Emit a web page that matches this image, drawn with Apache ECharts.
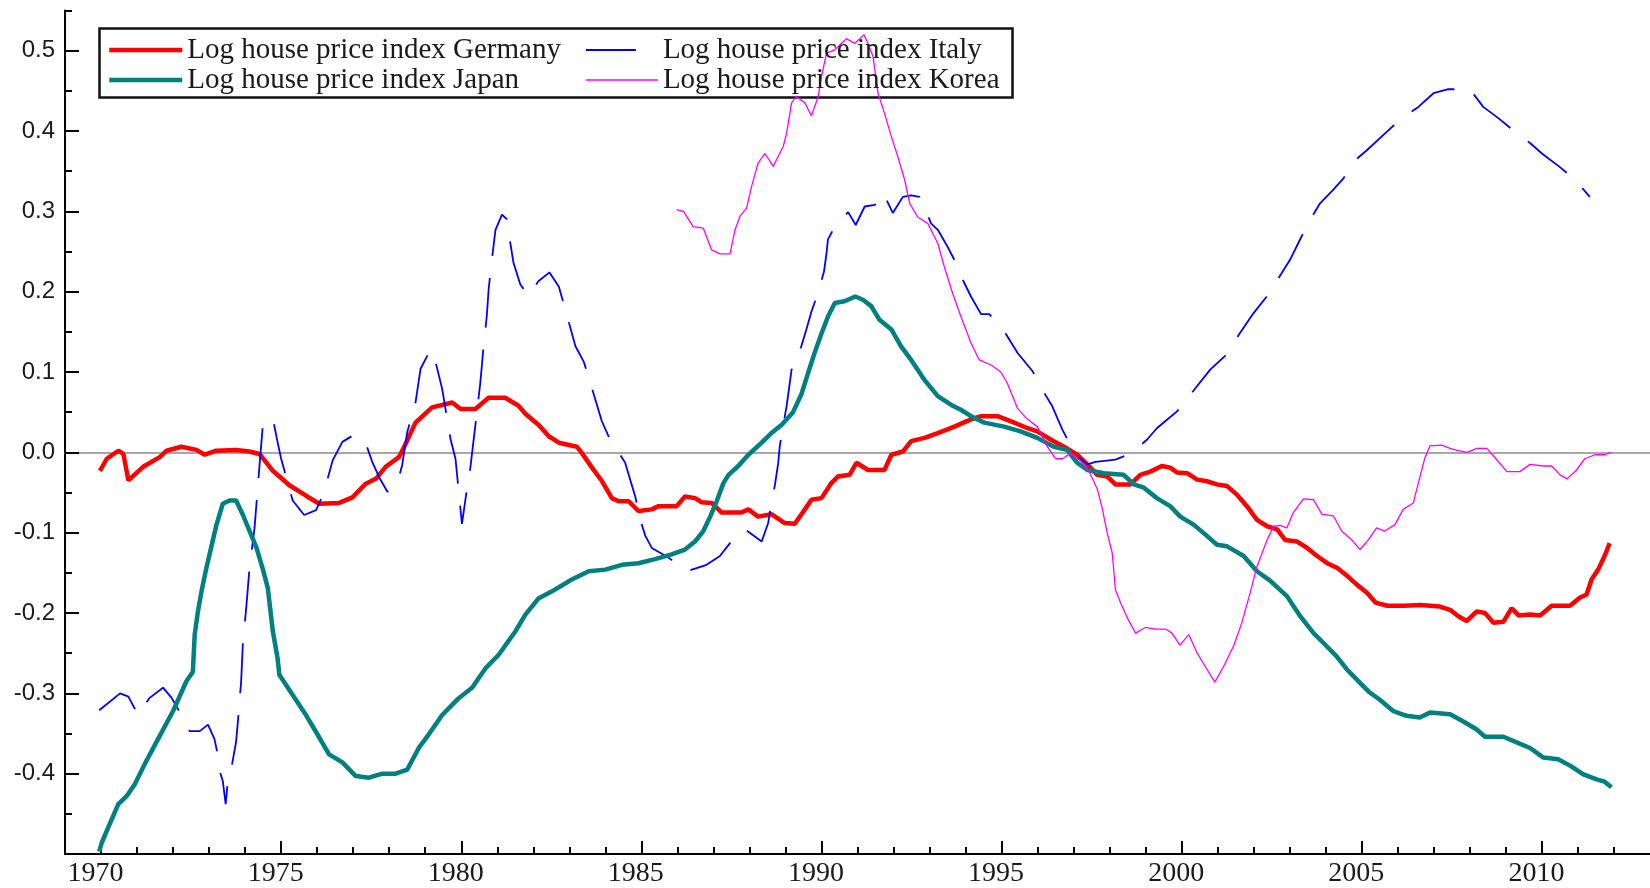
<!DOCTYPE html>
<html>
<head>
<meta charset="utf-8">
<script src="https://cdn.jsdelivr.net/npm/echarts@6/dist/echarts.min.js"></script>
<style>html,body{margin:0;padding:0;background:#fff;}#c{width:1650px;height:888px;}</style>
</head>
<body>
<div id="c"></div>
<script>
// ---- data (year, log index) ----
const germany = [[1969.97,-0.023],[1970.16,-0.008],[1970.48,0.002],[1970.62,-0.002],[1970.76,-0.035],[1971.17,-0.018],[1971.63,-0.006],[1971.82,0.002],[1972.23,0.007],[1972.65,0.003],[1972.88,-0.003],[1973.2,0.002],[1973.75,0.003],[1974.12,0.001],[1974.4,-0.002],[1974.77,-0.023],[1975.23,-0.041],[1975.69,-0.054],[1976.06,-0.064],[1976.61,-0.063],[1976.98,-0.056],[1977.35,-0.039],[1977.63,-0.033],[1977.9,-0.018],[1978.27,-0.006],[1978.46,0.011],[1978.73,0.037],[1979.19,0.056],[1979.75,0.062],[1979.98,0.054],[1980.39,0.054],[1980.76,0.068],[1981.22,0.068],[1981.59,0.058],[1981.78,0.048],[1982.15,0.034],[1982.43,0.02],[1982.71,0.012],[1983.21,0.007],[1983.35,-0.001],[1983.63,-0.019],[1983.91,-0.036],[1984.18,-0.057],[1984.37,-0.061],[1984.65,-0.061],[1984.92,-0.073],[1985.29,-0.071],[1985.48,-0.067],[1985.98,-0.067],[1986.21,-0.055],[1986.49,-0.057],[1986.67,-0.062],[1986.95,-0.063],[1987.23,-0.075],[1987.78,-0.075],[1987.97,-0.071],[1988.24,-0.08],[1988.61,-0.077],[1988.98,-0.088],[1989.26,-0.089],[1989.54,-0.071],[1989.72,-0.059],[1990.0,-0.057],[1990.28,-0.038],[1990.46,-0.03],[1990.78,-0.028],[1990.97,-0.013],[1991.29,-0.022],[1991.75,-0.022],[1991.94,-0.003],[1992.26,0.001],[1992.49,0.014],[1992.86,0.018],[1993.23,0.024],[1993.69,0.032],[1994.15,0.041],[1994.43,0.045],[1994.89,0.045],[1995.35,0.037],[1995.72,0.03],[1995.99,0.026],[1996.36,0.016],[1996.73,0.007],[1997.1,-0.003],[1997.38,-0.015],[1997.66,-0.028],[1997.93,-0.03],[1998.16,-0.04],[1998.58,-0.04],[1998.85,-0.028],[1999.13,-0.024],[1999.45,-0.017],[1999.68,-0.019],[1999.87,-0.025],[2000.15,-0.026],[2000.43,-0.034],[2000.7,-0.036],[2000.98,-0.04],[2001.26,-0.042],[2001.54,-0.053],[2001.81,-0.067],[2002.09,-0.084],[2002.37,-0.092],[2002.65,-0.096],[2002.87,-0.109],[2003.2,-0.111],[2003.48,-0.119],[2003.76,-0.129],[2004.04,-0.138],[2004.32,-0.144],[2004.6,-0.154],[2004.87,-0.165],[2005.15,-0.175],[2005.38,-0.187],[2005.71,-0.191],[2006.17,-0.191],[2006.63,-0.19],[2007.17,-0.192],[2007.45,-0.196],[2007.68,-0.204],[2007.91,-0.21],[2008.19,-0.198],[2008.42,-0.2],[2008.65,-0.212],[2008.93,-0.211],[2009.16,-0.194],[2009.35,-0.203],[2009.67,-0.202],[2009.95,-0.203],[2010.27,-0.191],[2010.78,-0.191],[2011.05,-0.181],[2011.24,-0.177],[2011.38,-0.158],[2011.56,-0.146],[2011.74,-0.129],[2011.88,-0.113]];

const italy = [[1969.95,-0.321],[1970.53,-0.3],[1970.76,-0.304],[1971.03,-0.327],[1971.34,-0.306],[1971.72,-0.293],[1971.95,-0.305],[1972.23,-0.327],[1972.46,-0.347],[1972.74,-0.347],[1972.97,-0.339],[1973.15,-0.357],[1973.22,-0.372],[1973.27,-0.393],[1973.38,-0.409],[1973.46,-0.438],[1973.52,-0.409],[1973.62,-0.393],[1973.75,-0.36],[1973.8,-0.335],[1973.89,-0.285],[1973.94,-0.236],[1974.03,-0.194],[1974.12,-0.145],[1974.26,-0.095],[1974.4,-0.016],[1974.49,0.033],[1974.63,0.042],[1974.77,0.042],[1974.9,0.013],[1975.0,-0.008],[1975.18,-0.037],[1975.32,-0.06],[1975.64,-0.078],[1975.97,-0.072],[1976.15,-0.054],[1976.29,-0.033],[1976.43,-0.01],[1976.7,0.013],[1977.03,0.022],[1977.35,0.011],[1977.53,-0.012],[1977.72,-0.031],[1977.95,-0.049],[1978.22,-0.039],[1978.36,-0.016],[1978.5,0.025],[1978.73,0.062],[1978.87,0.104],[1979.15,0.128],[1979.29,0.112],[1979.47,0.079],[1979.7,0.017],[1979.84,-0.008],[1979.93,-0.049],[1980.02,-0.089],[1980.16,-0.045],[1980.25,-0.02],[1980.39,0.033],[1980.53,0.087],[1980.62,0.132],[1980.71,0.17],[1980.76,0.203],[1980.85,0.24],[1980.95,0.277],[1981.13,0.296],[1981.27,0.29],[1981.36,0.261],[1981.45,0.236],[1981.64,0.209],[1981.87,0.195],[1982.14,0.213],[1982.45,0.224],[1982.71,0.206],[1982.85,0.184],[1983.17,0.132],[1983.4,0.113],[1983.72,0.066],[1983.9,0.039],[1984.09,0.02],[1984.55,-0.013],[1984.69,-0.034],[1984.83,-0.055],[1984.97,-0.084],[1985.11,-0.104],[1985.29,-0.119],[1985.75,-0.131],[1986.26,-0.148],[1986.81,-0.14],[1987.18,-0.129],[1987.46,-0.113],[1987.88,-0.096],[1988.34,-0.111],[1988.52,-0.088],[1988.61,-0.063],[1988.71,-0.04],[1988.8,-0.013],[1988.84,0.007],[1988.93,0.032],[1989.03,0.057],[1989.17,0.103],[1989.44,0.132],[1989.58,0.153],[1989.72,0.175],[1989.9,0.198],[1990.07,0.225],[1990.14,0.248],[1990.18,0.265],[1990.37,0.281],[1990.74,0.299],[1990.95,0.283],[1991.2,0.306],[1991.48,0.308],[1991.71,0.323],[1991.98,0.298],[1992.26,0.318],[1992.49,0.32],[1992.72,0.318],[1992.86,0.306],[1993.04,0.285],[1993.23,0.277],[1993.5,0.256],[1993.73,0.236],[1993.92,0.215],[1994.15,0.194],[1994.43,0.172],[1994.66,0.172],[1995.07,0.151],[1995.44,0.124],[1995.86,0.101],[1996.13,0.078],[1996.41,0.057],[1996.69,0.028],[1996.9,0.01],[1997.1,-0.005],[1997.38,-0.015],[1997.61,-0.012],[1998.16,-0.009],[1998.45,-0.004],[1998.76,0.005],[1999.04,0.016],[1999.31,0.03],[1999.55,0.039],[1999.87,0.051],[2000.28,0.074],[2000.79,0.103],[2001.3,0.124],[2001.58,0.146],[2001.99,0.173],[2002.36,0.194],[2002.69,0.217],[2003.01,0.24],[2003.33,0.269],[2003.56,0.289],[2003.84,0.31],[2004.21,0.327],[2004.49,0.341],[2004.77,0.362],[2005.14,0.376],[2005.69,0.399],[2006.06,0.414],[2006.57,0.43],[2006.99,0.447],[2007.4,0.452],[2008.0,0.452],[2008.37,0.43],[2008.79,0.416],[2009.2,0.401],[2009.67,0.385],[2010.0,0.372],[2010.5,0.355],[2010.9,0.34],[2011.33,0.318]];

const japan = [[1969.95,-0.497],[1970.02,-0.486],[1970.2,-0.467],[1970.48,-0.438],[1970.71,-0.428],[1970.94,-0.413],[1971.26,-0.384],[1971.63,-0.353],[1972.0,-0.322],[1972.37,-0.285],[1972.55,-0.273],[1972.6,-0.227],[1972.69,-0.198],[1972.79,-0.173],[1972.92,-0.145],[1973.06,-0.118],[1973.2,-0.091],[1973.38,-0.064],[1973.57,-0.06],[1973.75,-0.06],[1973.94,-0.078],[1974.17,-0.103],[1974.31,-0.118],[1974.49,-0.145],[1974.63,-0.169],[1974.77,-0.223],[1974.9,-0.256],[1974.95,-0.277],[1975.32,-0.302],[1975.69,-0.327],[1976.06,-0.355],[1976.33,-0.376],[1976.7,-0.386],[1977.07,-0.403],[1977.44,-0.405],[1977.81,-0.4],[1978.18,-0.4],[1978.5,-0.395],[1978.82,-0.368],[1979.1,-0.351],[1979.47,-0.327],[1979.93,-0.306],[1980.3,-0.293],[1980.67,-0.269],[1981.04,-0.252],[1981.5,-0.223],[1981.78,-0.202],[1982.14,-0.182],[1982.52,-0.173],[1983.08,-0.158],[1983.54,-0.148],[1984.0,-0.146],[1984.46,-0.14],[1984.92,-0.138],[1985.38,-0.133],[1985.84,-0.127],[1986.21,-0.121],[1986.49,-0.111],[1986.72,-0.098],[1986.91,-0.08],[1987.09,-0.061],[1987.28,-0.038],[1987.42,-0.028],[1987.69,-0.017],[1987.97,-0.003],[1988.34,0.012],[1988.61,0.024],[1988.89,0.034],[1989.21,0.05],[1989.44,0.072],[1989.63,0.099],[1989.81,0.124],[1990.0,0.148],[1990.18,0.169],[1990.37,0.186],[1990.64,0.188],[1990.94,0.194],[1991.15,0.19],[1991.38,0.182],[1991.61,0.165],[1991.94,0.153],[1992.21,0.132],[1992.49,0.115],[1992.86,0.09],[1993.23,0.07],[1993.6,0.059],[1993.87,0.053],[1994.15,0.045],[1994.52,0.037],[1995.07,0.032],[1995.53,0.026],[1995.99,0.018],[1996.45,0.007],[1996.82,0.003],[1997.1,-0.013],[1997.38,-0.022],[1997.84,-0.026],[1998.39,-0.028],[1998.67,-0.04],[1998.95,-0.044],[1999.31,-0.057],[1999.68,-0.067],[1999.96,-0.08],[2000.33,-0.09],[2000.7,-0.104],[2000.98,-0.115],[2001.26,-0.117],[2001.72,-0.129],[2002.09,-0.148],[2002.46,-0.16],[2002.92,-0.179],[2003.29,-0.204],[2003.66,-0.225],[2003.93,-0.237],[2004.3,-0.254],[2004.58,-0.27],[2004.95,-0.287],[2005.22,-0.299],[2005.5,-0.308],[2005.87,-0.322],[2006.24,-0.328],[2006.61,-0.33],[2006.89,-0.324],[2007.45,-0.326],[2007.82,-0.335],[2008.19,-0.345],[2008.42,-0.354],[2008.93,-0.354],[2009.3,-0.361],[2009.67,-0.368],[2010.04,-0.38],[2010.45,-0.382],[2010.78,-0.39],[2011.15,-0.401],[2011.52,-0.407],[2011.74,-0.41],[2011.93,-0.417]];

const korea = [[1985.98,0.302],[1986.17,0.3],[1986.44,0.281],[1986.72,0.279],[1986.95,0.252],[1987.18,0.247],[1987.46,0.247],[1987.6,0.277],[1987.74,0.294],[1987.92,0.304],[1988.06,0.331],[1988.24,0.36],[1988.43,0.372],[1988.66,0.356],[1988.94,0.381],[1989.03,0.397],[1989.17,0.435],[1989.3,0.443],[1989.54,0.435],[1989.72,0.419],[1989.91,0.443],[1990.0,0.468],[1990.14,0.497],[1990.37,0.501],[1990.55,0.509],[1990.69,0.515],[1990.92,0.509],[1991.18,0.52],[1991.29,0.509],[1991.43,0.493],[1991.57,0.447],[1991.75,0.422],[1991.94,0.393],[1992.12,0.368],[1992.31,0.339],[1992.45,0.31],[1992.67,0.293],[1992.95,0.285],[1993.23,0.26],[1993.41,0.231],[1993.64,0.198],[1993.87,0.169],[1994.15,0.136],[1994.38,0.115],[1994.7,0.109],[1994.98,0.1],[1995.16,0.086],[1995.44,0.055],[1995.7,0.042],[1995.99,0.032],[1996.27,0.007],[1996.5,-0.008],[1996.69,-0.008],[1996.92,-0.001],[1997.2,-0.011],[1997.43,-0.024],[1997.66,-0.046],[1997.8,-0.071],[1997.93,-0.1],[1998.07,-0.125],[1998.16,-0.171],[1998.3,-0.187],[1998.49,-0.206],[1998.72,-0.225],[1998.99,-0.218],[1999.27,-0.22],[1999.55,-0.22],[1999.73,-0.225],[1999.95,-0.24],[2000.2,-0.227],[2000.43,-0.25],[2000.7,-0.27],[2000.92,-0.286],[2001.17,-0.266],[2001.44,-0.241],[2001.67,-0.212],[2001.9,-0.175],[2002.09,-0.142],[2002.37,-0.109],[2002.55,-0.092],[2002.73,-0.091],[2002.92,-0.094],[2003.1,-0.075],[2003.38,-0.058],[2003.66,-0.059],[2003.89,-0.077],[2004.21,-0.079],[2004.44,-0.098],[2004.72,-0.109],[2004.95,-0.121],[2005.18,-0.109],[2005.41,-0.094],[2005.64,-0.098],[2005.92,-0.09],[2006.15,-0.071],[2006.43,-0.063],[2006.57,-0.038],[2006.75,-0.007],[2006.89,0.008],[2007.22,0.009],[2007.45,0.005],[2007.68,0.002],[2007.92,0.0],[2008.19,0.005],[2008.47,0.005],[2008.72,-0.008],[2009.03,-0.024],[2009.39,-0.024],[2009.67,-0.015],[2010.04,-0.017],[2010.27,-0.017],[2010.5,-0.028],[2010.7,-0.033],[2010.96,-0.022],[2011.19,-0.008],[2011.47,-0.003],[2011.74,-0.003],[2011.93,0.0]];

const seriesNames = ['Log house price index Germany','Log house price index Italy','Log house price index Japan','Log house price index Korea'];
const xMajorTicks = [1970,1975,1980,1985,1990,1995,2000,2005,2010];
const xMinorTicks = [1969,1970,1971,1972,1973,1974,1975,1976,1977,1978,1979,1980,1981,1982,1983,1984,1985,1986,1987,1988,1989,1990,1991,1992,1993,1994,1995,1996,1997,1998,1999,2000,2001,2002,2003,2004,2005,2006,2007,2008,2009,2010,2011,2012];
const yMajorTicks = [-0.4,-0.3,-0.2,-0.1,0.0,0.1,0.2,0.3,0.4,0.5];
const yMinorTicks = [-0.45,-0.35,-0.25,-0.15,-0.05,0.05,0.15,0.25,0.35,0.45,0.55];

const chart = echarts.init(document.getElementById('c'), null, {renderer:'canvas'});
const axisCol = '#000';
const legendText = {fontFamily:'Liberation Serif', fontSize:29, color:'#1a1a1a'};

chart.setOption({
  animation:false,
  backgroundColor:'#fff',
  grid:{left:65, right:0, top:10.5, bottom:33.3, containLabel:false},
  xAxis:[
    {type:'value', min:1969, max:2013, position:'bottom',
     axisLine:{show:true, onZero:false, lineStyle:{color:axisCol, width:2}},
     axisTick:{show:true, inside:true, length:13, customValues:xMajorTicks, lineStyle:{color:axisCol, width:2}},
     axisLabel:{show:true, customValues:xMajorTicks, margin:6, padding:[0,11,0,0], fontFamily:'Liberation Serif', fontSize:28, color:'#1a1a1a', formatter:v=>String(Math.round(v))},
     splitLine:{show:false}},
    {type:'value', min:1969, max:2013, position:'bottom',
     axisLine:{show:false, onZero:false},
     axisTick:{show:true, inside:true, length:7, customValues:xMinorTicks, lineStyle:{color:axisCol, width:2}},
     axisLabel:{show:false}, splitLine:{show:false}},
    {type:'value', min:1969, max:2013, position:'bottom',
     axisLine:{show:true, onZero:true, onZeroAxisIndex:0, lineStyle:{color:'#8c8c8c', width:1.5}},
     axisTick:{show:false}, axisLabel:{show:false}, splitLine:{show:false}}
  ],
  yAxis:[
    {type:'value', min:-0.5, max:0.55, position:'left',
     axisLine:{show:true, onZero:false, lineStyle:{color:axisCol, width:2}},
     axisTick:{show:true, inside:true, length:14, customValues:yMajorTicks, lineStyle:{color:axisCol, width:2}},
     axisLabel:{show:true, customValues:yMajorTicks, margin:10, fontFamily:'Liberation Sans', fontSize:24, color:'#1a1a1a', formatter:v=>v.toFixed(1)},
     splitLine:{show:false}},
    {type:'value', min:-0.5, max:0.55, position:'left',
     axisLine:{show:false, onZero:false},
     axisTick:{show:true, inside:true, length:7, customValues:yMinorTicks, lineStyle:{color:axisCol, width:2}},
     axisLabel:{show:false}, splitLine:{show:false}}
  ],
  legend:[
    {orient:'vertical', left:107, top:35.5, padding:0, itemGap:1, itemWidth:73, itemHeight:14,
     itemStyle:{opacity:0}, textStyle:legendText, selectedMode:false,
     data:[{name:seriesNames[0], lineStyle:{width:4.5}}, {name:seriesNames[2], lineStyle:{width:4.5}}]},
    {orient:'vertical', left:585, top:35.5, padding:0, itemGap:1, itemWidth:72, itemHeight:14,
     itemStyle:{opacity:0}, textStyle:legendText, selectedMode:false,
     data:[{name:seriesNames[1], lineStyle:{width:1.8}}, {name:seriesNames[3], lineStyle:{width:1.3}}]}
  ],
  graphic:[
    {type:'rect', left:97, top:26, shape:{width:913, height:69}, style:{fill:'none', stroke:'#111', lineWidth:2.5}, silent:true}
  ],
  series:[
    {name:seriesNames[0], type:'line', data:germany, symbol:'none', showSymbol:false, smooth:false,
     lineStyle:{color:'#ff0000', width:4.5}, itemStyle:{color:'#ff0000'}},
    {name:seriesNames[1], type:'line', data:italy, symbol:'none', showSymbol:false,
     lineStyle:{color:'#0000ff', width:1.8, type:[50,22]}, itemStyle:{color:'#0000ff'}},
    {name:seriesNames[2], type:'line', data:japan, symbol:'none', showSymbol:false,
     lineStyle:{color:'#008080', width:4.5}, itemStyle:{color:'#008080'}},
    {name:seriesNames[3], type:'line', data:korea, symbol:'none', showSymbol:false,
     lineStyle:{color:'#ff00ff', width:1.3}, itemStyle:{color:'#ff00ff'}}
  ]
});
</script>
</body>
</html>
